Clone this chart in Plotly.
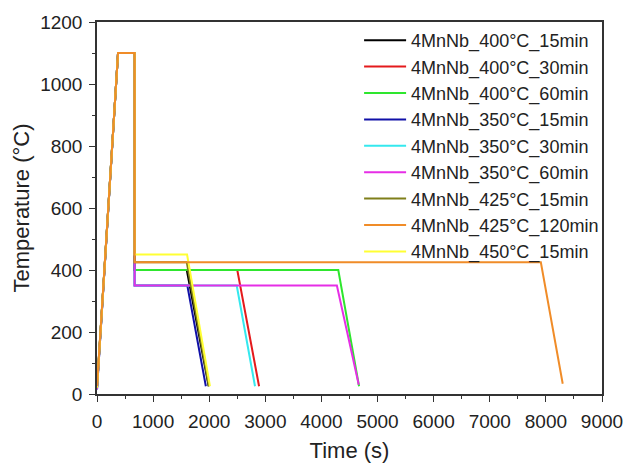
import plotly.graph_objects as go

# Series names (legend order)
names = [
    "4MnNb_400°C_15min", "4MnNb_400°C_30min", "4MnNb_400°C_60min",
    "4MnNb_350°C_15min", "4MnNb_350°C_30min", "4MnNb_350°C_60min",
    "4MnNb_425°C_15min", "4MnNb_425°C_120min", "4MnNb_450°C_15min",
]
colors = ["#000000", "#e41a1c", "#2ee62e", "#1010a8", "#35e8ee",
          "#e62ee6", "#7f7f1a", "#f08c28", "#ffff33"]

# Heat-treatment profiles: time (s) and temperature (°C)
times = [
    [0, 375, 670, 670, 1600, 1990],
    [0, 375, 670, 670, 2500, 2888],
    [0, 375, 670, 670, 4300, 4670],
    [0, 375, 670, 670, 1610, 1940],
    [0, 375, 670, 670, 2490, 2816],
    [0, 375, 670, 670, 4275, 4665],
    [0, 375, 670, 670, 1600, 1995],
    [0, 375, 670, 670, 7910, 8300],
    [0, 375, 670, 670, 1605, 2013],
]
temps = [
    [20, 1100, 1100, 400, 400, 25],
    [20, 1100, 1100, 400, 400, 25],
    [20, 1100, 1100, 400, 400, 25],
    [15, 1100, 1100, 350, 350, 25],
    [15, 1100, 1100, 350, 350, 25],
    [15, 1100, 1100, 350, 350, 30],
    [20, 1100, 1100, 425, 425, 25],
    [25, 1100, 1100, 425, 425, 33],
    [20, 1100, 1100, 450, 450, 25],
]

# drawing order (orange on top), legend keeps original order
draw_order = [0, 1, 2, 3, 4, 5, 6, 8, 7]

fig = go.Figure()
for i in draw_order:
    fig.add_trace(go.Scatter(
        x=times[i], y=temps[i], mode="lines", name=names[i],
        line=dict(color=colors[i], width=2), legendrank=i + 1,
    ))

axis_common = dict(
    showgrid=False, zeroline=False, showline=True, linecolor="#333333",
    linewidth=1.5, mirror=True, ticks="outside", ticklen=6, tickwidth=1.3,
    automargin=False,
    tickcolor="#333333", tickfont=dict(family="Liberation Sans, Arial", size=19, color="#222222"),
)

fig.update_xaxes(
    range=[0, 9000], tick0=0, dtick=1000, ticklabelstandoff=3,
    minor=dict(ticks="outside", ticklen=3, dtick=500, tickcolor="#333333", tickwidth=1.2),
    title=dict(text="Time (s)", font=dict(family="Liberation Sans, Arial", size=22, color="#222222"), standoff=20),
    **axis_common,
)
fig.update_yaxes(
    range=[0, 1200], tick0=0, dtick=200, ticklabelstandoff=3,
    minor=dict(ticks="outside", ticklen=3, dtick=100, tickcolor="#333333", tickwidth=1.2),
    title=dict(text="Temperature (°C)", font=dict(family="Liberation Sans, Arial", size=22, color="#222222"), standoff=4),
    **axis_common,
)

fig.update_layout(
    width=635, height=463,
    margin=dict(l=97, r=33, t=22, b=69),
    paper_bgcolor="white", plot_bgcolor="white",
    showlegend=True,
    legend=dict(
        x=0.519, y=1.0, xanchor="left", yanchor="top",
        bgcolor="rgba(0,0,0,0)", borderwidth=0, itemwidth=42,
        font=dict(family="Liberation Sans, Arial", size=18, color="#222222"),
        tracegroupgap=0,
    ),
)

fig.write_html("out.html")
